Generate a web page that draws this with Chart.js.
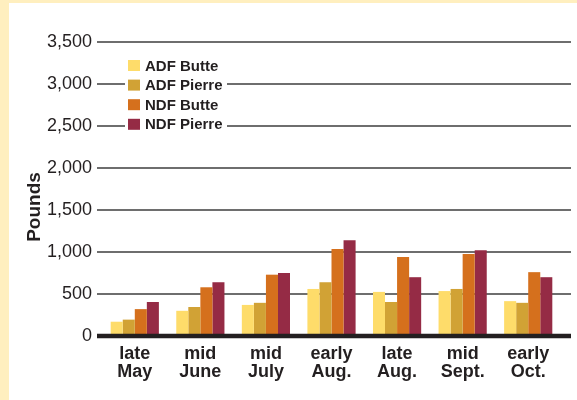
<!DOCTYPE html>
<html>
<head>
<meta charset="utf-8">
<script src="https://cdn.jsdelivr.net/npm/chart.js@4.4.1/dist/chart.umd.min.js"></script>
<style>
  html, body { margin: 0; padding: 0; }
  body { width: 577px; height: 400px; background: #ffefbf; position: relative; overflow: hidden; }
  #wrap { position: absolute; left: 9px; top: 3px; width: 568px; height: 397px; background: #ffffff; }
</style>
</head>
<body>
<div id="wrap"><canvas id="chart" width="568" height="397"></canvas></div>
<script>
// ---- data ----
const categories = [
  ["late", "May"],
  ["mid", "June"],
  ["mid", "July"],
  ["early", "Aug."],
  ["late", "Aug."],
  ["mid", "Sept."],
  ["early", "Oct."],
];
const adfButte = [170, 300, 370, 560, 525, 535, 415];
const adfPierre = [195, 345, 395, 640, 405, 560, 395];
const ndfButte = [320, 580, 730, 1035, 940, 975, 760];
const ndfPierre = [405, 640, 750, 1140, 700, 1020, 700];
const seriesNames = ["ADF Butte", "ADF Pierre", "NDF Butte", "NDF Pierre"];
const seriesColors = ["#fedc6a", "#d1a235", "#d5701d", "#952b45"];
const yMax = 3500;
const yStep = 500;
const yTitle = "Pounds";

const font = "'Liberation Sans', Arial, Helvetica, sans-serif";

// gridlines that run a bit past the plot on both sides, plus the legend box
const decorPlugin = {
  id: "decor",
  beforeDatasetsDraw(chart) {
    const ctx = chart.ctx;
    const area = chart.chartArea;
    const y = chart.scales.y;
    ctx.save();
    ctx.strokeStyle = "#6e6e6e";
    ctx.lineWidth = 2;
    for (let v = yStep; v <= yMax; v += yStep) {
      const py = Math.round(y.getPixelForValue(v));
      ctx.beginPath();
      ctx.moveTo(area.left - 5, py);
      ctx.lineTo(area.right + 10, py);
      ctx.stroke();
    }

    // legend
    const lx = 119, ly = 62.5, gap = 19.6;
    ctx.fillStyle = "#ffffff";
    ctx.fillRect(lx - 3, ly - 11, 102, gap * 3 + 22);
    ctx.font = "bold 15px " + font;
    ctx.textBaseline = "middle";
    chart.data.datasets.forEach((ds, i) => {
      const ry = ly + i * gap;
      ctx.fillStyle = ds.backgroundColor;
      ctx.fillRect(lx, ry - 5.5, 12, 11);
      ctx.fillStyle = "#231f20";
      ctx.fillText(ds.label, lx + 17, ry + 1);
    });

    // axis title
    ctx.translate(25, 204);
    ctx.rotate(-Math.PI / 2);
    ctx.font = "bold 19px " + font;
    ctx.textAlign = "center";
    ctx.fillStyle = "#231f20";
    ctx.fillText(yTitle, 0, 1);
    ctx.restore();
  },
  afterDatasetsDraw(chart) {
    const ctx = chart.ctx;
    const area = chart.chartArea;
    const py = chart.scales.y.getPixelForValue(0);
    ctx.save();
    ctx.strokeStyle = "#231f20";
    ctx.lineWidth = 4.5;
    ctx.beginPath();
    ctx.moveTo(area.left - 5, py);
    ctx.lineTo(area.right + 10, py);
    ctx.stroke();
    ctx.restore();
  },
};

const datasets = [adfButte, adfPierre, ndfButte, ndfPierre].map((values, i) => ({
  label: seriesNames[i],
  data: values,
  backgroundColor: seriesColors[i],
  borderWidth: 0,
  barPercentage: 1,
  categoryPercentage: 0.735,
}));

new Chart(document.getElementById("chart"), {
  type: "bar",
  data: { labels: categories, datasets: datasets },
  options: {
    responsive: false,
    animation: false,
    layout: { padding: { top: 39, right: 16, left: 0, bottom: 0 } },
    plugins: {
      legend: { display: false },
      tooltip: { enabled: false },
    },
    scales: {
      x: {
        grid: { display: false, drawTicks: false },
        border: { display: false },
        ticks: {
          padding: 9,
          color: "#231f20",
          font: { family: font, size: 18, weight: "bold", lineHeight: 1.0 },
          maxRotation: 0,
          autoSkip: false,
        },
        afterFit(scale) { scale.height = 64; },
      },
      y: {
        min: 0,
        max: yMax,
        grid: { display: false, drawTicks: false },
        border: { display: false },
        ticks: {
          stepSize: yStep,
          padding: 10,
          color: "#231f20",
          font: { family: font, size: 18 },
          callback: (v) => v.toLocaleString("en-US"),
        },
        afterFit(scale) { scale.width = 93; },
      },
    },
  },
  plugins: [decorPlugin],
});
</script>
</body>
</html>
